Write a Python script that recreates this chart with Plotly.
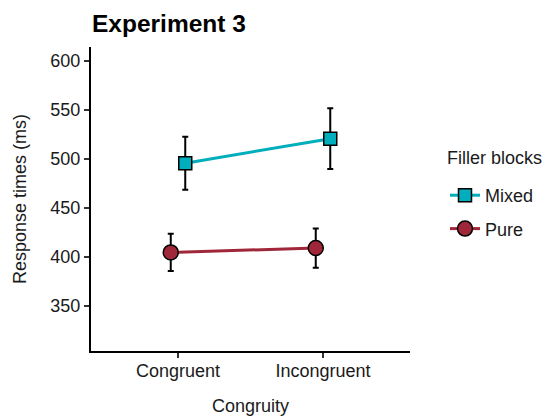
import plotly.graph_objects as go

categories = ["Congruent", "Incongruent"]
groups = ["Mixed", "Pure"]
means = {"Mixed": [495.5, 520.5], "Pure": [404.5, 409.0]}
err_up = {"Mixed": [27.0, 31.0], "Pure": [19.0, 20.0]}
err_down = {"Mixed": [27.0, 31.0], "Pure": [19.0, 20.0]}
y_ticks = [350, 400, 450, 500, 550, 600]

colors = {"Mixed": "#00AFBB", "Pure": "#A0263A"}
symbols = {"Mixed": "square", "Pure": "circle"}
dodge = {"Mixed": 0.05, "Pure": -0.05}

fig = go.Figure()
for g in groups:
    xs = [i + 1 + dodge[g] for i in range(len(categories))]
    fig.add_trace(go.Scatter(
        x=xs, y=means[g], name=g, legendgroup=g,
        mode="lines+markers",
        line=dict(color=colors[g], width=3),
        marker=dict(symbol=symbols[g], size=15 if g == "Pure" else 13,
                    color=colors[g], line=dict(color="black", width=1.5)),
        error_y=dict(type="data", symmetric=False, array=err_up[g],
                     arrayminus=err_down[g], color="black", thickness=2, width=3),
    ))

font = "Liberation Sans, Arial, sans-serif"
txt = "#1a1a1a"
fig.update_layout(
    width=545, height=417,
    margin=dict(l=91, r=135, t=47, b=66, autoexpand=False),
    paper_bgcolor="white", plot_bgcolor="white",
    font=dict(family=font, color=txt, size=18),
    title=dict(text="<b>Experiment 3</b>", x=92/545, xanchor="left",
               y=1 - 23/417, yanchor="middle",
               font=dict(size=24.5, color="black", family=font)),
    xaxis=dict(range=[0.4, 2.6], tickvals=[1, 2], ticktext=categories,
               showgrid=False, zeroline=False, showline=True, automargin=False,
               linecolor="black", linewidth=2, ticks="outside", ticklen=5,
               tickwidth=1.5, tickcolor="#333", tickfont=dict(size=18, color=txt),
               ticklabelstandoff=-3),
    yaxis=dict(range=[304, 614], tickvals=y_ticks, automargin=False,
               showgrid=False, zeroline=False, showline=True,
               linecolor="black", linewidth=2, ticks="outside", ticklen=5,
               tickwidth=1.5, tickcolor="#333", tickfont=dict(size=18, color=txt)),
    legend=dict(xref="container", yref="container",
                x=445/545, xanchor="left", y=1 - 177/417, yanchor="top",
                font=dict(size=18), tracegroupgap=7, itemwidth=30),
    showlegend=True,
    annotations=[
        dict(text="Congruity", xref="paper", yref="paper", showarrow=False,
             x=0.5, y=-(406 - 351) / (351 - 47), xanchor="center", yanchor="middle",
             font=dict(size=18, color=txt)),
        dict(text="Response times (ms)", xref="paper", yref="paper", showarrow=False,
             x=-(91 - 20) / (410 - 91), y=0.5, xanchor="center", yanchor="middle",
             textangle=-90, font=dict(size=18, color=txt)),
        dict(text="Filler blocks", xref="paper", yref="paper", showarrow=False,
             x=(445 - 91) / (410 - 91), y=(351 - 158) / (351 - 47),
             xanchor="left", yanchor="middle", font=dict(size=18, color=txt)),
    ],
)
fig.write_html("out.html", config={"displayModeBar": False},
               post_script="document.body.style.margin='0';")
